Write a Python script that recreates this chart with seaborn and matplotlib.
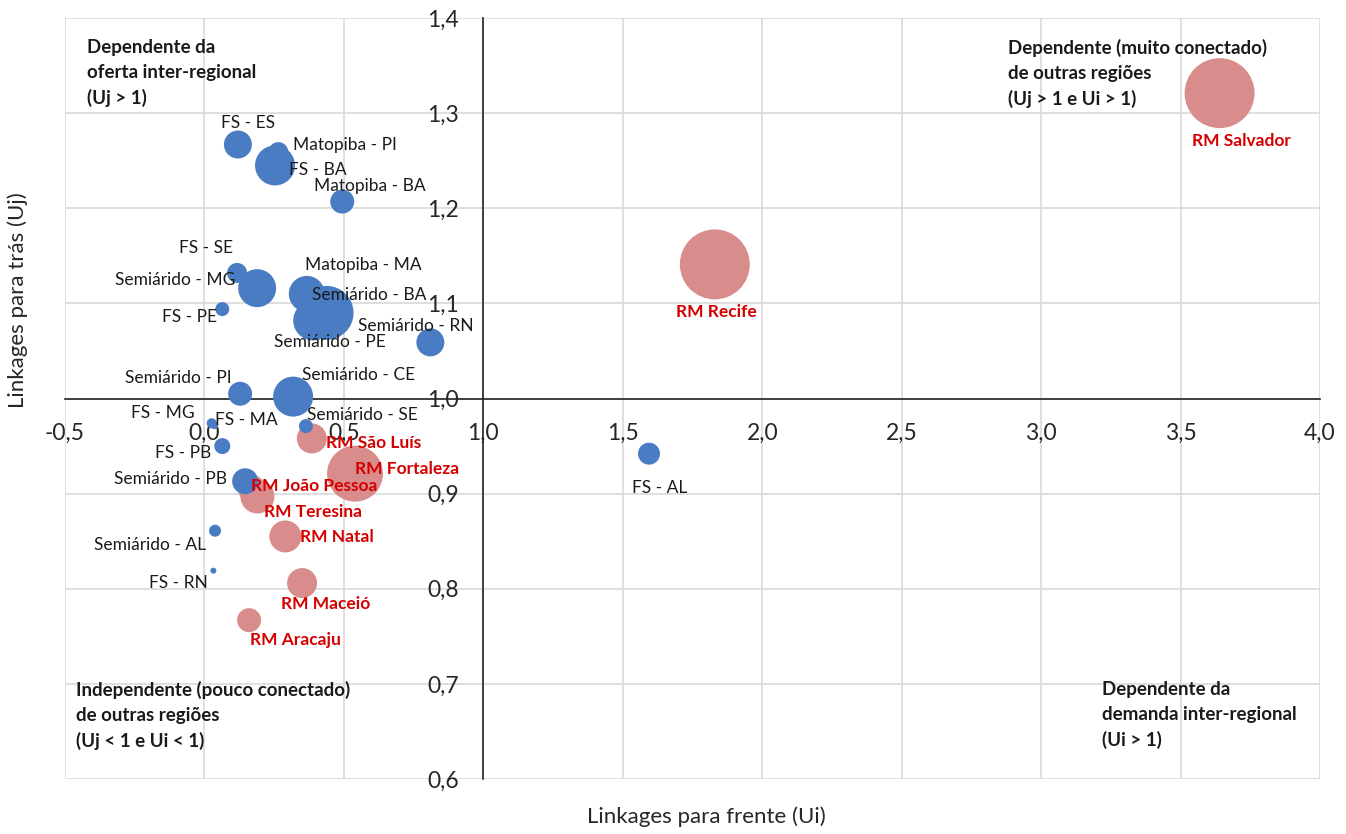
import matplotlib
matplotlib.use("Agg")
import matplotlib.pyplot as plt
import seaborn as sns
import pandas as pd
from matplotlib.ticker import FuncFormatter, MultipleLocator

# Data (Ui = forward, Uj = backward linkages)
regioes = [
    "RM Salvador", "RM Recife", "RM Fortaleza", "RM João Pessoa", "RM Teresina",
    "RM São Luís", "RM Natal", "RM Maceió", "RM Aracaju",
    "FS - ES", "Matopiba - PI", "FS - BA", "Matopiba - BA", "FS - SE",
    "Semiárido - MG", "FS - PE", "Matopiba - MA", "Semiárido - BA",
    "Semiárido - PE", "Semiárido - RN", "Semiárido - PI", "Semiárido - CE",
    "FS - MG", "FS - MA", "Semiárido - SE", "FS - PB", "Semiárido - PB",
    "Semiárido - AL", "FS - RN", "FS - AL",
]
ui = [
    3.64, 1.83, 0.54, 0.17, 0.19,
    0.385, 0.29, 0.35, 0.16,
    0.12, 0.265, 0.253, 0.494, 0.117,
    0.189, 0.064, 0.367, 0.438,
    0.39, 0.81, 0.128, 0.318,
    0.026, 0.035, 0.364, 0.064, 0.146,
    0.038, 0.032, 1.594,
]
uj = [
    1.321, 1.141, 0.921, 0.905, 0.897,
    0.958, 0.855, 0.806, 0.767,
    1.267, 1.259, 1.245, 1.207, 1.132,
    1.116, 1.094, 1.110, 1.090,
    1.082, 1.059, 1.005, 1.002,
    0.974, 0.972, 0.971, 0.950, 0.913,
    0.861, 0.819, 0.942,
]
peso = [
    1225, 1225, 784, 190, 290,
    225, 256, 225, 144,
    196, 100, 400, 144, 100,
    361, 49, 324, 729,
    400, 196, 144, 400,
    25, 16, 49, 64, 169,
    36, 9, 121,
]
grupo = ["RM"] * 9 + ["Outras"] * 21

df = pd.DataFrame({"regiao": regioes, "ui": ui, "uj": uj, "peso": peso, "grupo": grupo})

# label offsets in pixels (dx, dy)
offsets = {
    "RM Salvador": (22, -48), "RM Recife": (2, -48), "RM Fortaleza": (52, 5),
    "RM João Pessoa": (62, 3), "RM Teresina": (56, -16), "RM São Luís": (62, -5),
    "RM Natal": (52, -1), "RM Maceió": (24, -21), "RM Aracaju": (46, -20),
    "FS - ES": (10, 22), "Matopiba - PI": (67, 7), "FS - BA": (43, -5),
    "Matopiba - BA": (28, 16), "FS - SE": (-31, 25), "Semiárido - MG": (-82, 8),
    "FS - PE": (-33, -8), "Matopiba - MA": (57, 29), "Semiárido - BA": (43, 18),
    "Semiárido - PE": (17, -22), "Semiárido - RN": (-15, 16), "Semiárido - PI": (-62, 16),
    "Semiárido - CE": (65, 22), "FS - MG": (-49, 10), "FS - MA": (32, 5),
    "Semiárido - SE": (56, 11), "FS - PB": (-39, -7), "Semiárido - PB": (-75, 2),
    "Semiárido - AL": (-65, -14), "FS - RN": (-35, -12), "FS - AL": (11, -34),
}

sns.set_style("white")
plt.rcParams["font.family"] = ["Lato", "DejaVu Sans"]

fig = plt.figure(figsize=(13.46, 8.34), dpi=100)
ax = fig.add_axes([65 / 1346, 1 - 779 / 834, 1255 / 1346, 761 / 834])

vmax = max(peso)
sns.scatterplot(
    data=df, x="ui", y="uj", hue="grupo", size="peso",
    palette={"RM": "#D98C8C", "Outras": "#4A7CC4"},
    sizes=(0, 2.07 * vmax), size_norm=(0, vmax),
    linewidth=0, alpha=1, legend=False, ax=ax, zorder=3,
)

for _, r in df.iterrows():
    red = r["grupo"] == "RM"
    ax.annotate(
        r["regiao"], (r["ui"], r["uj"]), xytext=offsets[r["regiao"]],
        textcoords="offset pixels", ha="center", va="center",
        fontsize=12.5, color="#D40000" if red else "#1a1a1a",
        fontweight="bold" if red else "normal", zorder=4,
    )

ax.set_xlim(-0.5, 4.0)
ax.set_ylim(0.6, 1.4)
ax.xaxis.set_major_locator(MultipleLocator(0.5))
ax.yaxis.set_major_locator(MultipleLocator(0.1))
fmt = FuncFormatter(lambda v, p: f"{v:.1f}".replace(".", ","))
ax.xaxis.set_major_formatter(fmt)
ax.yaxis.set_major_formatter(fmt)

ax.grid(True, color="#D9D9D9", linewidth=1.2, zorder=0)
ax.set_axisbelow(True)
for s in ["top", "right"]:
    ax.spines[s].set_visible(False)
ax.spines["left"].set_position(("data", 1.0))
ax.spines["bottom"].set_position(("data", 1.0))
for s in ["left", "bottom"]:
    ax.spines[s].set_color("#262626")
    ax.spines[s].set_linewidth(1.2)
    ax.spines[s].set_zorder(2)
ax.tick_params(direction="inout", length=11, width=1.2, color="#262626",
               labelsize=16.5, labelcolor="#262626")
ax.tick_params(axis="x", pad=12)
ax.tick_params(axis="y", pad=12)
ax.set_xlabel("")
ax.set_ylabel("")

fig.text(18 / 1346, 1 - 300 / 834, "Linkages para trás (Uj)", rotation=90,
         ha="center", va="center", fontsize=16, color="#262626")
fig.text(706 / 1346, 1 - 817 / 834, "Linkages para frente (Ui)",
         ha="center", va="center", fontsize=16, color="#262626")

quad = dict(fontsize=13.5, fontweight="bold", color="#1a1a1a", va="top", ha="left",
            linespacing=1.55)
ax.text(-0.42, 1.378, "Dependente da\noferta inter-regional\n(Uj > 1)", **quad)
ax.text(2.88, 1.378, "Dependente (muito conectado)\nde outras regiões\n(Uj > 1 e Ui > 1)", **quad)
ax.text(-0.46, 0.703, "Independente (pouco conectado)\nde outras regiões\n(Uj < 1 e Ui < 1)", **quad)
ax.text(3.22, 0.703, "Dependente da\ndemanda inter-regional\n(Ui > 1)", **quad)

fig.savefig("out.png", dpi=100)
